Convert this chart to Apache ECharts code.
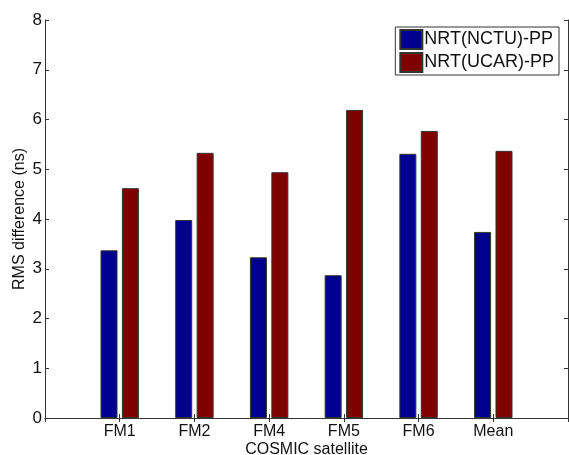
<!DOCTYPE html>
<html>
<head>
    <meta charset="utf-8">
    <title>RMS difference</title>
    <script src="https://cdn.jsdelivr.net/npm/echarts@6/dist/echarts.min.js"></script>
    <style>
        html, body {margin:0;padding:0;background:#fff;}
        #chart {width:569px;height:455px;}
    </style>
</head>
<body>
<div id="chart"></div>
<script>
    // data
    var satellites = ['FM1', 'FM2', 'FM4', 'FM5', 'FM6', 'Mean'];
    var nctuValues = [3.37, 3.98, 3.23, 2.87, 5.31, 3.74];
    var ucarValues = [4.62, 5.33, 4.94, 6.19, 5.77, 5.37];
    var yTicks = [0, 1, 2, 3, 4, 5, 6, 7, 8];

    // matlab-style axis: empty slot at each end
    var cats = [''].concat(satellites).concat(['']);
    function pad(arr) { return [null].concat(arr).concat([null]); }

    var font = 'Liberation Sans, Arial, sans-serif';
    var axisColor = '#333';

    var chart = echarts.init(document.getElementById('chart'));
    var option = {
        animation: false,
        grid: {left: 45, right: 1, top: 20, bottom: 37, containLabel: false, outerBoundsMode: 'none'},
        legend: {
            right: 10,
            top: 27,
            orient: 'vertical',
            itemWidth: 22,
            itemHeight: 19,
            itemGap: 2,
            padding: [2, 5, 2, 4],
            borderColor: '#333',
            borderWidth: 1,
            backgroundColor: '#fff',
            icon: 'rect',
            textStyle: {fontFamily: font, fontSize: 18, color: '#111', padding: [0, 0, 0, -3]},
            data: ['NRT(NCTU)-PP', 'NRT(UCAR)-PP']
        },
        xAxis: [{
            type: 'category',
            data: cats,
            boundaryGap: false,
            name: 'COSMIC satellite',
            nameLocation: 'middle',
            nameGap: 24,
            nameMoveOverlap: false,
            nameTextStyle: {fontFamily: font, fontSize: 16, color: '#111'},
            axisLine: {lineStyle: {color: axisColor}},
            axisTick: {inside: true, length: 4, lineStyle: {color: axisColor}},
            axisLabel: {fontFamily: font, fontSize: 16, color: '#111', margin: 6, interval: 0},
            splitLine: {show: false}
        }, {
            type: 'category',
            data: cats,
            boundaryGap: false,
            position: 'top',
            axisLine: {lineStyle: {color: axisColor}},
            axisTick: {inside: true, length: 4, lineStyle: {color: axisColor}},
            axisLabel: {show: false},
            splitLine: {show: false}
        }],
        yAxis: [{
            type: 'value',
            min: yTicks[0],
            max: yTicks[yTicks.length - 1],
            interval: 1,
            name: 'RMS difference (ns)',
            nameLocation: 'middle',
            nameGap: 17,
            nameMoveOverlap: false,
            nameTextStyle: {fontFamily: font, fontSize: 16, color: '#111'},
            axisLine: {show: true, lineStyle: {color: axisColor}},
            axisTick: {show: true, inside: true, length: 4, lineStyle: {color: axisColor}},
            axisLabel: {fontFamily: font, fontSize: 17, color: '#111', margin: 3},
            splitLine: {show: false}
        }, {
            type: 'value',
            min: yTicks[0],
            max: yTicks[yTicks.length - 1],
            interval: 1,
            position: 'right',
            axisLine: {show: true, lineStyle: {color: axisColor}},
            axisTick: {show: true, inside: true, length: 4, lineStyle: {color: axisColor}},
            axisLabel: {show: false},
            splitLine: {show: false}
        }],
        series: [{
            name: 'NRT(NCTU)-PP',
            type: 'bar',
            data: pad(nctuValues),
            barWidth: 17,
            barGap: '26%',
            itemStyle: {color: '#00008F', borderColor: '#333', borderWidth: 1}
        }, {
            name: 'NRT(UCAR)-PP',
            type: 'bar',
            data: pad(ucarValues),
            barWidth: 17,
            itemStyle: {color: '#800000', borderColor: '#333', borderWidth: 1}
        }]
    };
    chart.setOption(option);
</script>
</body>
</html>
